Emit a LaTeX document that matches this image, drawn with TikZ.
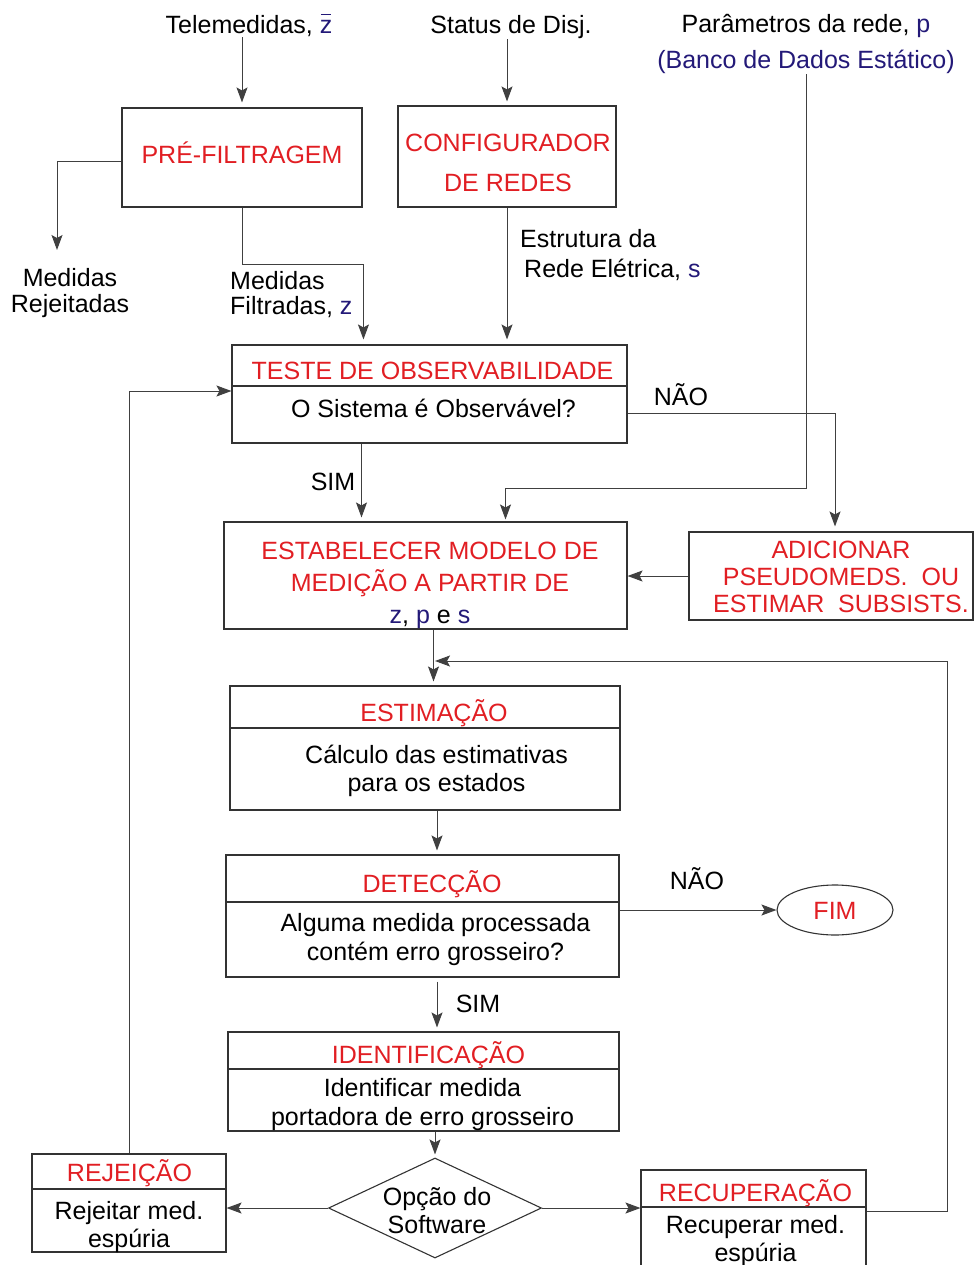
\documentclass[tikz,border=0pt]{standalone}
\usepackage{fontspec}
\setmainfont{Liberation Sans}
\usetikzlibrary{arrows.meta,shapes.geometric,calc}
\definecolor{vermelho}{RGB}{225,30,35}
\definecolor{azul}{RGB}{35,25,120}
\newcommand{\zbarra}{\ooalign{z\cr\hidewidth\rule[0.74em]{0.42em}{1.3pt}\hidewidth\cr}}
\begin{document}
\begin{tikzpicture}[x=1pt, y=-1pt,
	every node/.style={font=\fontsize{25}{28}\selectfont},
	caixa/.style={draw=black!80, line width=1.1pt, inner sep=0pt},
	rot/.style={anchor=base, align=center, inner sep=0pt},
	tit/.style={rot, text=vermelho},
	seta/.style={draw=black!75, line width=1pt, -{Stealth[length=15pt,width=11pt,inset=3pt]}},
	linha/.style={draw=black!80, line width=1.1pt}]
		\useasboundingbox (0,0) rectangle (974,1265);
		\clip (0,0) rectangle (974,1265);
		
		% Entradas
		\node[rot] (tele) at (249,34) {Telemedidas, \textcolor{azul}{\zbarra}};
		\node[rot] (disj) at (511,34) {Status de Disj.};
		\node[rot] (param) at (806,33) {Parâmetros da rede, \textcolor{azul}{p}};
		\node[rot, text=azul] (banco) at (806,69) {(Banco de Dados Estático)};
		
		% Caixas
		\node[caixa, minimum width=240pt, minimum height=99pt] (pre) at (242,157.5) {};
		\node[caixa, minimum width=218pt, minimum height=101pt] (conf) at (507,156.5) {};
		\node[caixa, minimum width=395pt, minimum height=98pt] (tst) at (429.5,394) {};
		\node[caixa, minimum width=403pt, minimum height=107pt] (est) at (425.5,575.5) {};
		\node[caixa, minimum width=284pt, minimum height=88pt] (adic) at (831,576) {};
		\node[caixa, minimum width=390pt, minimum height=124pt] (estim) at (425,748) {};
		\node[caixa, minimum width=393pt, minimum height=122pt] (det) at (422.5,916) {};
		\node[caixa, minimum width=391pt, minimum height=99pt] (ident) at (423.5,1081.5) {};
		\node[caixa, diamond, minimum width=213pt, minimum height=100pt] (dia) at (435,1208) {};
		\node[caixa, minimum width=194pt, minimum height=98pt] (rej) at (129,1203) {};
		\node[caixa, minimum width=225pt, minimum height=110pt] (rec) at (753.5,1225) {};
		\node[caixa, ellipse, minimum width=116pt, minimum height=50pt] (fim) at (835,910) {};
		
		% Divisorias
		\foreach \n/\y in {tst/386, estim/728, det/902, ident/1069, rej/1189, rec/1207}
		\draw[linha] (\n.west |- 0,\y) -- (\n.east |- 0,\y);
		
		% Textos das caixas
		\node[tit] (preT) at (242,164) {PRÉ-FILTRAGEM};
		\node[tit] (confT) at (508,192) {CONFIGURADOR\\[12pt]DE REDES};
		\node[tit] (tstT) at (432.5,379) {TESTE DE OBSERVABILIDADE};
		\node[rot] (tstB) at (433.5,417) {O Sistema é Observável?};
		\node[tit] (estT) at (430,623) {ESTABELECER MODELO DE\\[4pt]MEDIÇÃO A PARTIR DE\\[4pt]
			\textcolor{azul}{z}\textcolor{black}{,} \textcolor{azul}{p} \textcolor{black}{e} \textcolor{azul}{s}};
		\node[tit] (adicT) at (841,612) {ADICIONAR\\[-1pt]PSEUDOMEDS.\ \ OU\\[-1pt]ESTIMAR\ \ SUBSISTS.};
		\node[tit] (estimT) at (434,721) {ESTIMAÇÃO};
		\node[rot] (estimB) at (436.5,791) {Cálculo das estimativas\\para os estados};
		\node[tit] (detT) at (432,892) {DETECÇÃO};
		\node[rot] (detB) at (435.5,960) {Alguma medida processada\\[1pt]contém erro grosseiro?};
		\node[tit] (identT) at (428.5,1063) {IDENTIFICAÇÃO};
		\node[rot] (identB) at (422.5,1125) {Identificar medida\\[1pt]portadora de erro grosseiro};
		\node[rot] (diaT) at (437,1233) {Opção do\\Software};
		\node[tit] (rejT) at (129.5,1181) {REJEIÇÃO};
		\node[rot] (rejB) at (129,1247) {Rejeitar med.\\espúria};
		\node[tit] (recT) at (755.5,1201) {RECUPERAÇÃO};
		\node[rot] (recB) at (755.5,1261) {Recuperar med.\\espúria};
		\node[tit] (fimT) at (835,919) {FIM};
		
		% Rotulos soltos
		\node[rot] (mrejT) at (70,312) {Medidas\\[-2pt]Rejeitadas};
		\node[rot, align=left, anchor=base west] (mfilt) at (230,314) {Medidas\\[-3pt]Filtradas, \textcolor{azul}{z}};
		\node[rot, align=left, anchor=base west] (estr) at (520,277) {Estrutura da\\[2pt]\hspace{4pt}Rede Elétrica, \textcolor{azul}{s}};
		\node[rot] (naoA) at (681,405) {NÃO};
		\node[rot] (simA) at (333,490) {SIM};
		\node[rot] (naoB) at (697,889) {NÃO};
		\node[rot] (simB) at (478,1012) {SIM};
		
		% Conexoes
		\coordinate (mrej) at (57,250);
		\coordinate (volta) at (435,661);
		\draw[seta, shorten >=5pt] (tele.south -| pre.north) -- (pre.north);
		\draw[seta, shorten >=4pt] (disj.south -| conf.north) -- (conf.north);
		\draw[seta] ($(pre.west)+(0,4)$) -| (mrej);
		\draw[seta, shorten >=5pt] (pre.south) |- ($(tst.north west)+(132,-80)$) -- ($(tst.north west)+(132,0)$);
		\draw[seta, shorten >=5pt] (conf.south) -- (conf.south |- tst.north);
		\draw[seta, shorten >=2pt] (banco.south) |- ($(est.north)+(80,-33)$) -- ($(est.north)+(80,0)$);
		\draw[seta, shorten >=5pt] ($(tst.east)+(0,19)$) -| ($(adic.north)+(4,0)$);
		\draw[seta, shorten >=4pt] ($(tst.south)+(-68,0)$) -- ($(est.north)+(-64,0)$);
		\draw[seta] (adic.west) -- (adic.west -| est.east);
		\draw[seta, shorten >=4pt] ($(est.south)+(8,0)$) -- ($(estim.north)+(8.5,0)$);
		\draw[seta] ($(rec.east)+(0,-14)$) -- ++(81,0) |- (volta);
		\draw[seta, shorten >=4pt] ($(estim.south)+(12,0)$) -- ($(det.north)+(14.5,0)$);
		\draw[seta] (det.east |- fim.west) -- (fim.west);
		\draw[seta, shorten >=4pt] ($(det.south)+(14.5,4)$) -- ($(ident.north)+(13.5,0)$);
		\draw[seta, shorten >=3pt] (ident.south -| dia.north) -- (dia.north);
		\draw[seta] (dia.west) -- (dia.west -| rej.east);
		\draw[seta] (dia.east) -- (dia.east -| rec.west);
		\draw[seta] (rej.north) |- ($(tst.west)+(0,-3)$);
	\end{tikzpicture}
\end{document}
